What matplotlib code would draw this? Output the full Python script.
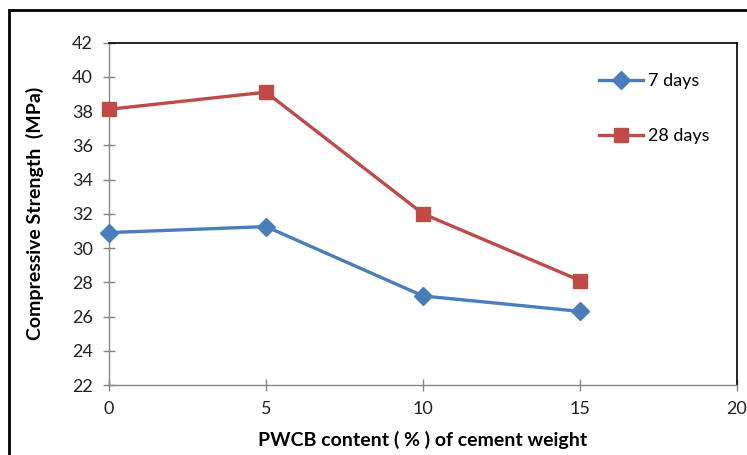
import matplotlib.pyplot as plt
from matplotlib.patches import Rectangle

# PWCB content (% of cement weight)
pwcb = [0, 5, 10, 15]
# compressive strength (MPa)
strength_7 = [30.9, 31.25, 27.2, 26.3]
strength_28 = [38.1, 39.1, 32.0, 28.1]

x_ticks = [0, 5, 10, 15, 20]
y_ticks = [22, 24, 26, 28, 30, 32, 34, 36, 38, 40, 42]

plt.rcParams['font.family'] = ['Lato', 'DejaVu Sans']

fig = plt.figure(figsize=(7.47, 4.55), dpi=100)
ax = fig.add_axes([109 / 747, 1 - 385 / 455, (737 - 109) / 747, (385 - 42.5) / 455])

ax.plot(pwcb, strength_7, color='#4A7EBB', lw=2.4, marker='D', ms=9,
        label='7 days', clip_on=False, zorder=3)
ax.plot(pwcb, strength_28, color='#BE4B48', lw=2.4, marker='s', ms=10,
        label='28 days', clip_on=False, zorder=3)

ax.set_xlim(0, 20)
ax.set_ylim(22, 42)
ax.set_xticks(x_ticks)
ax.set_yticks(y_ticks)
ax.tick_params(direction='inout', length=9, width=1, color='#868686',
               labelsize=13, labelcolor='#222222', pad=7)

for side in ['left', 'bottom']:
    ax.spines[side].set_color('#868686')
    ax.spines[side].set_linewidth(1)
for side in ['top', 'right']:
    ax.spines[side].set_color('black')
    ax.spines[side].set_linewidth(1.2)

ax.set_ylabel('Compressive Strength  (MPa)', fontsize=14, fontweight='bold', labelpad=20)
ax.set_xlabel('PWCB content ( % ) of cement weight', fontsize=14, fontweight='bold', labelpad=10)

leg = ax.legend(loc='upper left', bbox_to_anchor=(0.755, 0.958), frameon=False,
                fontsize=13, handlelength=2.4, labelspacing=2.15, handletextpad=0.3)

# outer frame of the picture
fig.patches.append(Rectangle((9 / 747, -0.1), 1.2, 1 - 9.5 / 455 + 0.1, transform=fig.transFigure,
                             fill=False, edgecolor='black', lw=2, zorder=0))

fig.savefig('out.png', dpi=100)
